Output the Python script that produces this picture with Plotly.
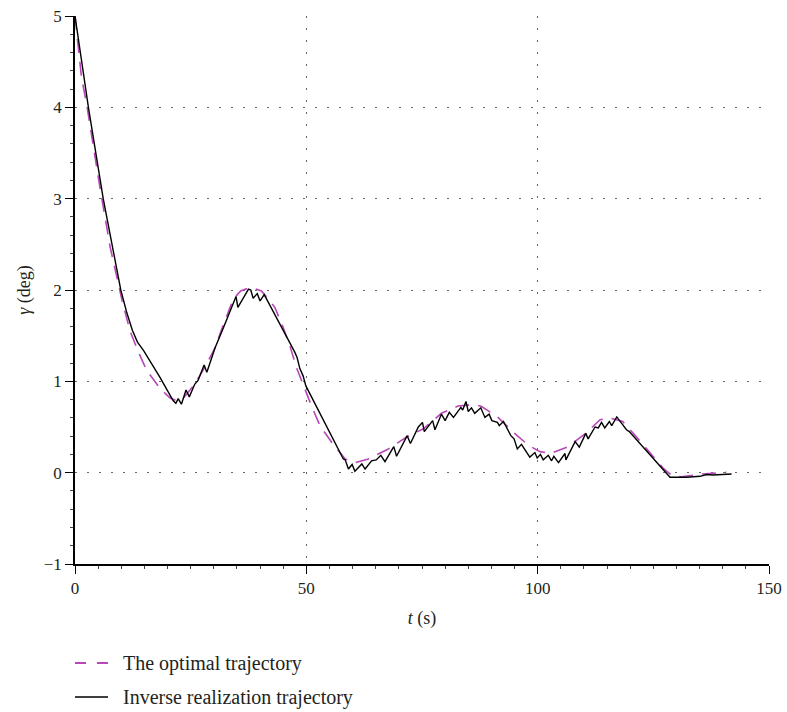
import plotly.graph_objects as go

# Optimal trajectory (dashed)
t_opt = [0, 1.4, 2.5, 4.0, 5.4, 7.6, 10.2, 11.9, 13.7, 15.5, 18.4, 20.5, 21.8, 23.5, 25.9,
         28.0, 30.3, 31.7, 34.2, 35.8, 38.0, 40.3, 43.2, 45.0, 46.5, 47.8, 49.5, 51.2, 53.0,
         55.8, 58.4, 60.5, 63.4, 67.4, 71.7, 75.3, 79.2, 82.8, 85.0, 87.7, 91.1, 94.8, 98.0,
         100.5, 102.7, 106.6, 110.6, 113.5, 115.5, 118.4, 121.2, 124.3, 127.1, 129.0, 131.1,
         135.4, 140.8]
g_opt = [5.0, 4.33, 4.04, 3.56, 3.12, 2.47, 1.88, 1.55, 1.32, 1.12, 0.92, 0.82, 0.79, 0.82, 0.97,
         1.15, 1.37, 1.57, 1.90, 1.99, 2.03, 1.99, 1.81, 1.59, 1.38, 1.16, 0.93, 0.72, 0.51,
         0.31, 0.15, 0.11, 0.15, 0.25, 0.39, 0.48, 0.65, 0.73, 0.74, 0.73, 0.62, 0.44, 0.30,
         0.23, 0.21, 0.285, 0.44, 0.58, 0.60, 0.56, 0.40, 0.22, 0.05, -0.03, -0.045,
         -0.015, 0.003]

# Inverse realization trajectory (solid)
t_inv = [0, 2.9, 6.1, 9.4, 9.9, 11.2, 12.4, 13.5, 14.8, 18.4, 21.2, 21.8, 22.3, 23.0, 24.0,
         24.7, 25.9, 26.6, 27.9, 28.5, 30.3, 32.1, 33.9, 34.8, 35.2, 36.4, 37.5, 38.0, 38.5,
         39.4, 40.0, 40.9, 44.3, 47.5, 48.0, 48.6, 49.3, 49.9, 58.0, 58.4, 59.1, 59.9, 60.5,
         62.0, 62.7, 64.1, 65.1, 66.1, 67.0, 68.9, 69.5, 71.8, 72.5, 74.2, 75.1, 75.5, 77.3,
         77.8, 79.2, 80.0, 80.9, 81.8, 83.4, 83.8, 84.5, 85.0, 85.7, 86.4, 87.7, 88.6, 89.5,
         90.1, 91.3, 91.7, 92.6, 94.2, 94.9, 95.6, 96.5, 97.5, 98.3, 99.4, 99.9, 100.6, 101.2,
         102.3, 103.0, 103.5, 104.5, 105.9, 106.1, 108.1, 109.0, 110.4, 110.9, 112.4, 113.1,
         113.8, 114.5, 115.5, 116.0, 117.1, 119.2, 119.8, 128.6, 132.2, 135.1, 136.5, 137.9,
         141.9]
g_inv = [5.0, 4.0, 3.0, 2.1, 2.0, 1.75, 1.56, 1.43, 1.34, 1.04, 0.79, 0.76, 0.81, 0.75, 0.905,
         0.83, 0.97, 1.01, 1.18, 1.10, 1.37, 1.59, 1.83, 1.93, 1.81, 1.92, 2.01, 2.0, 1.91,
         1.96, 1.88, 1.95, 1.63, 1.32, 1.26, 1.14, 1.06, 0.95, 0.15, 0.14, 0.04, 0.09, 0.015,
         0.095, 0.04, 0.13, 0.14, 0.19, 0.12, 0.285, 0.18, 0.405, 0.32, 0.50, 0.55, 0.45, 0.57,
         0.47, 0.64, 0.57, 0.66, 0.605, 0.715, 0.685, 0.78, 0.67, 0.71, 0.65, 0.71, 0.605, 0.64,
         0.57, 0.55, 0.515, 0.56, 0.405, 0.37, 0.26, 0.31, 0.24, 0.17, 0.22, 0.16, 0.20, 0.14,
         0.19, 0.13, 0.18, 0.11, 0.21, 0.14, 0.34, 0.28, 0.43, 0.37, 0.50, 0.49,
         0.55, 0.49, 0.56, 0.515, 0.61, 0.47, 0.45, -0.05, -0.05, -0.04, -0.02, -0.025,
         -0.015]

x_ticks = [0, 50, 100, 150]
y_ticks = [-1, 0, 1, 2, 3, 4, 5]
y_ticktext = ["−1", "0", "1", "2", "3", "4", "5"]
series_names = ["The optimal trajectory", "Inverse realization trajectory"]

SERIF = "Liberation Serif"
INK = "#231f20"
OPT_COLOR = "#B847B8"

W, H = 787, 712
ML, MR, MT, MB = 75, 18, 16, 148
PW, PH = W - ML - MR, H - MT - MB


def px_to_paper(px, py):
    return (px - ML) / PW, (H - MB - py) / PH


fig = go.Figure()
fig.add_trace(go.Scatter(x=t_opt, y=g_opt, mode="lines", name=series_names[0],
                         showlegend=False,
                         line=dict(color=OPT_COLOR, width=1.6, dash="14px,9px")))
fig.add_trace(go.Scatter(x=t_inv, y=g_inv, mode="lines", name=series_names[1],
                         showlegend=False,
                         line=dict(color="black", width=1.4)))

# Legend drawn below the plot (key samples + labels)
legend_rows = [(663, dict(color=OPT_COLOR, width=1.8, dash="11px,11px")),
               (697, dict(color="black", width=1.4))]
for (row_y, style), name in zip(legend_rows, series_names):
    x0, y0 = px_to_paper(75, row_y)
    x1, _ = px_to_paper(108, row_y)
    fig.add_shape(type="line", xref="paper", yref="paper", x0=x0, x1=x1, y0=y0, y1=y0,
                  line=style)
    xt, _ = px_to_paper(121, row_y)
    fig.add_annotation(xref="paper", yref="paper", x=xt, y=y0, text=name, showarrow=False,
                       xanchor="left", yanchor="middle",
                       font=dict(family=SERIF, size=20, color=INK))

axis_common = dict(
    ticks="outside", ticklen=8, tickcolor="black", tickwidth=1.2,
    showline=True, linecolor="black", linewidth=1.5,
    showgrid=True, gridcolor="#666", griddash="2px,10px", gridwidth=1,
    zeroline=False, mirror=False, automargin=False,
    tickfont=dict(family=SERIF, size=17, color=INK),
)

fig.update_layout(
    width=W, height=H,
    margin=dict(l=ML, r=MR, t=MT, b=MB),
    plot_bgcolor="white", paper_bgcolor="white",
    font=dict(family=SERIF, size=17, color=INK),
    showlegend=False,
    xaxis=dict(range=[0, 150], tickvals=x_ticks,
               minor=dict(dtick=5, ticks="outside", ticklen=3, tickcolor="#444", showgrid=False),
               title=dict(text="<i>t</i> (s)", font=dict(family=SERIF, size=18, color=INK), standoff=14),
               **axis_common),
    yaxis=dict(range=[-1, 5], tickvals=y_ticks, ticktext=y_ticktext,
               minor=dict(dtick=0.2, ticks="outside", ticklen=3, tickcolor="#444", showgrid=False),
               title=dict(text="<i>γ</i> (deg)", font=dict(family=SERIF, size=18, color=INK), standoff=8),
               **axis_common),
)

fig.write_html("out.html")
